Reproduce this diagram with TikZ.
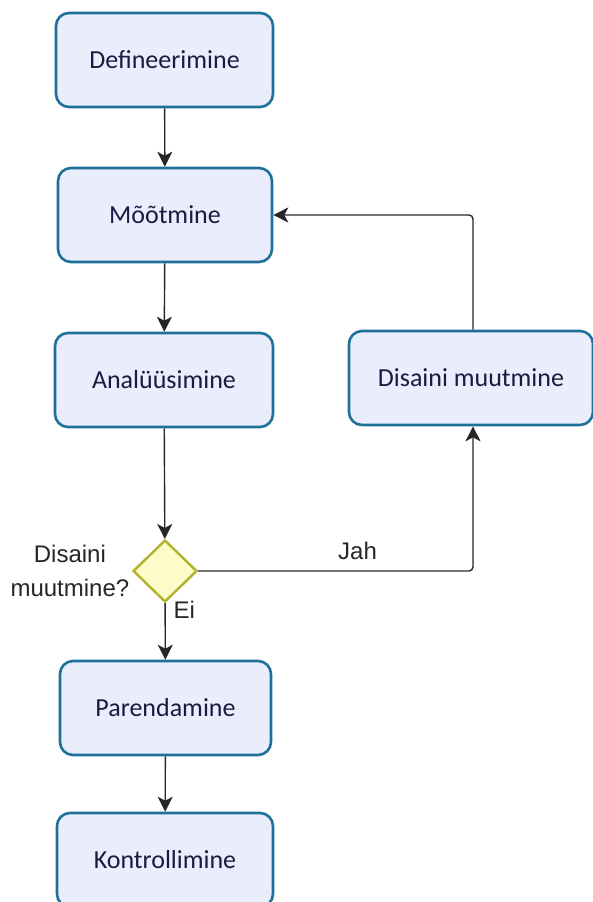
\documentclass[tikz,border=0pt]{standalone}
\usepackage{fontspec}
\setmainfont{Carlito}
\newfontfamily\lblfont{Liberation Sans}
\usetikzlibrary{arrows.meta,shapes.geometric}
\definecolor{boxfill}{RGB}{233,237,252}
\definecolor{boxline}{RGB}{31,112,153}
\definecolor{boxtext}{RGB}{28,26,64}
\definecolor{decfill}{RGB}{252,252,200}
\definecolor{decline}{RGB}{178,178,46}

\begin{document}
\begin{tikzpicture}[x=1pt, y=-1pt,
  stepbox/.style={draw=boxline, fill=boxfill, line width=2.6pt, rounded corners=13pt,
    minimum height=94pt, text=boxtext, font=\fontsize{26}{30}\selectfont},
  decbox/.style={diamond, draw=decline, fill=decfill, line width=2.4pt, inner sep=0pt,
    minimum width=64pt, minimum height=62pt},
  lbl/.style={font=\lblfont\fontsize{24}{34}\selectfont, text=black!85},
  flow/.style={line width=1.4pt, black!85, -{Stealth[length=15pt, width=15pt, inset=4pt]}}]
  \useasboundingbox (0,0) rectangle (593,902);
  % process steps
  \node[stepbox, minimum width=217pt] (def) at (164.5,60) {Defineerimine};
  \node[stepbox, minimum width=214pt] (meas) at (165,215) {Mõõtmine};
  \node[stepbox, minimum width=218pt] (anal) at (164,380) {Analüüsimine};
  \node[stepbox, minimum width=244pt] (dis) at (471,378) {Disaini muutmine};
  \node[decbox] (dec) at (165,571) {};
  \node[stepbox, minimum width=211pt] (par) at (165.5,708) {Parendamine};
  \node[stepbox, minimum width=216pt] (kon) at (165,860) {Kontrollimine};
  % decision labels
  \node[lbl, align=center, anchor=east] (decq) at ([xshift=1pt]dec.west) {Disaini\\muutmine?};
  % connectors
  \draw[flow] (def) -- (meas);
  \draw[flow] (meas) -- (anal);
  \draw[flow] (anal) -- (dec);
  \draw[flow] (dec) -- (par);
  \draw[flow] (par) -- (kon);
  \draw[flow, rounded corners=4pt] (dec.east) -| node[lbl, pos=0.29, above=7pt] (jah) {Jah} ([xshift=2pt]dis.south);
  \draw[flow, rounded corners=4pt] ([xshift=2pt]dis.north) |- (meas.east);
  \node[lbl, anchor=north west] (ei) at ([xshift=5pt, yshift=6pt]dec.south) {Ei};
\end{tikzpicture}
\end{document}
